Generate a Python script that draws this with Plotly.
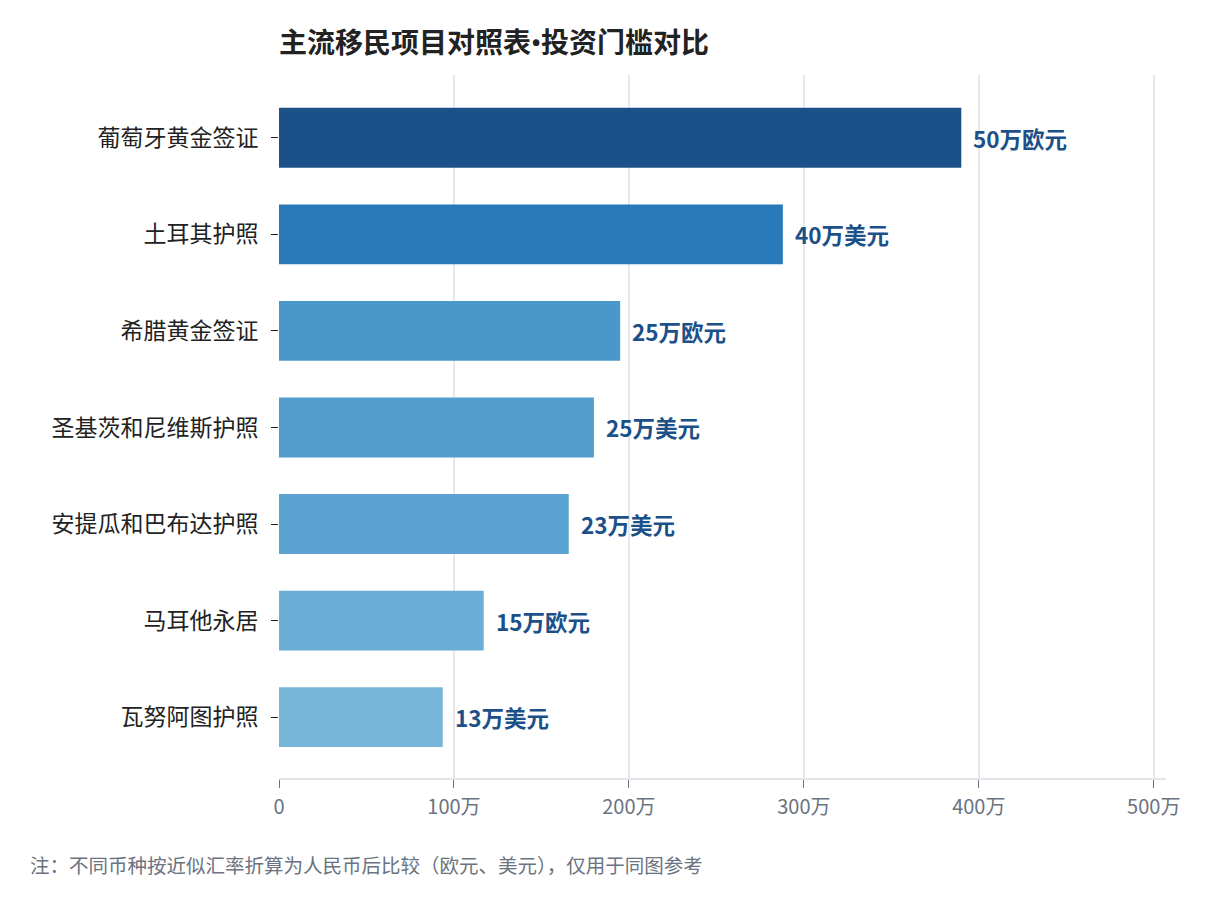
import plotly.graph_objects as go

programs = ["葡萄牙黄金签证", "土耳其护照", "希腊黄金签证", "圣基茨和尼维斯护照",
            "安提瓜和巴布达护照", "马耳他永居", "瓦努阿图护照"]
# 折算人民币 (万)
rmb_wan = [390, 288, 195, 180, 165.6, 117, 93.6]
labels = ["50万欧元", "40万美元", "25万欧元", "25万美元", "23万美元", "15万欧元", "13万美元"]
colors = ["#1c5088", "#2a7ab9", "#4a98c9", "#539dcc", "#5aa2cf", "#6aaed6", "#77b5d9"]

tickvals = [0, 100, 200, 300, 400, 500]
ticktext = ["0", "100万", "200万", "300万", "400万", "500万"]

font = "Noto Sans CJK SC, Microsoft YaHei, sans-serif"

fig = go.Figure()
fig.add_trace(go.Bar(
    y=programs, x=rmb_wan, orientation="h",
    marker=dict(color=colors, line=dict(width=0)),
    width=0.62,
    hoverinfo="skip",
))

# value labels to the right of each bar
for p, v, t in zip(programs, rmb_wan, labels):
    fig.add_annotation(x=v, y=p, text="<b>" + t + "</b>", showarrow=False,
                       xanchor="left", yanchor="middle", xshift=10,
                       font=dict(color="#1c5088", size=22.5, family=font))

# page has 8px body margin, so shift absolute positions by -8
fig.update_layout(
    width=1212, height=904,
    margin=dict(l=271, r=54, t=67, b=134),
    plot_bgcolor="white", paper_bgcolor="white",
    font=dict(family=font, color="#333333"),
    showlegend=False,
    title=dict(text="<b>主流移民项目对照表<span style='font-family:Roboto'>•</span>投资门槛对比</b>",
               x=271/1212, xanchor="left",
               y=1 - 35/904, yanchor="middle",
               font=dict(size=28, color="#222222", family=font)),
)
fig.update_xaxes(
    range=[0, 507], tickvals=tickvals, ticktext=ticktext,
    showgrid=True, gridcolor="#e8e8ec", gridwidth=1.5,
    showline=True, linecolor="#e3e3e8", linewidth=2,
    ticks="outside", tickcolor="#6b7280", ticklen=8,
    tickfont=dict(size=20, color="#6b7280"), ticklabelstandoff=2,
    zeroline=False, automargin=False,
)
fig.update_yaxes(
    range=[6.63, -0.65],
    ticks="outside", tickcolor="#222222", ticklen=7,
    tickfont=dict(size=23, color="#222222"), ticklabelstandoff=8,
    showline=False, showgrid=False, automargin=False,
)
fig.add_annotation(
    text="注：不同币种按近似汇率折算为人民币后比较（欧元、美元），仅用于同图参考",
    xref="paper", yref="paper", x=-251/887, y=-(865-778)/703,
    xanchor="left", yanchor="middle", showarrow=False,
    font=dict(size=19.5, color="#6b7280", family=font),
)

fig.write_html("out.html")
